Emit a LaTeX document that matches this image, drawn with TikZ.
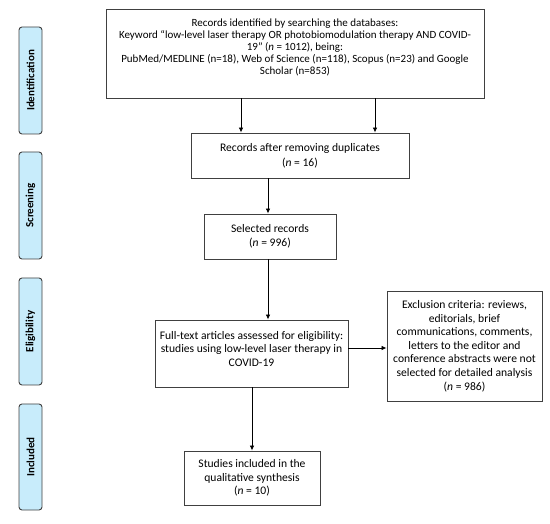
\documentclass[tikz,border=0pt]{standalone}
\usepackage{fontspec}
\setmainfont{Carlito}
\usetikzlibrary{arrows.meta}
\definecolor{stage}{HTML}{C8ECFB}
\definecolor{edge}{HTML}{404040}
\begin{document}
\begin{tikzpicture}[x=1pt,y=-1pt,
  box/.style={draw=edge,line width=0.9pt,rectangle,inner sep=0pt,font=\fontsize{11.6}{13.6}\selectfont,align=center},
  stagebox/.style={draw=edge,line width=0.9pt,fill=stage,rounded corners=3pt,minimum height=23pt,inner sep=0pt,font=\fontsize{11}{12}\selectfont\bfseries,rotate=90},
  txt/.style={inner sep=0pt,font=\fontsize{11}{12.1}\selectfont,align=center},
  arr/.style={draw=black,line width=0.8pt,-{Latex[length=5pt,width=4.5pt]}}]
\useasboundingbox (0,0) rectangle (550,524);
% stage labels
\node[stagebox,minimum width=107pt] (sid) at (30.5,80.5) {Identification};
\node[stagebox,minimum width=107pt] (ssc) at (30.5,205.5) {Screening};
\node[stagebox,minimum width=107pt] (sel) at (30.5,331.5) {Eligibility};
\node[stagebox,minimum width=106pt] (sin) at (30.5,457) {Included};
% boxes
\node[box,minimum width=378pt,minimum height=89pt] (id) at (295,53.5) {};
\node[txt,anchor=north] (idt) at (295,18.5) {Records identified by searching the databases:\\
Keyword “low-level laser therapy OR photobiomodulation therapy AND COVID-\\
19” (\textit{n} = 1012), being:\\
PubMed/MEDLINE (n=18), Web of Science (n=118), Scopus (n=23) and Google\\
Scholar (n=853)};
\node[box,minimum width=218pt,minimum height=45pt,font=\fontsize{11.6}{15}\selectfont] (dup) at (300,155.5) {Records after removing duplicates\\(\textit{n} = 16)};
\node[box,minimum width=132pt,minimum height=45pt] (sel3) at (270,236.5) {Selected records\\(\textit{n} = 996)};
\node[box,minimum width=193pt,minimum height=67pt] (full) at (251.5,353.5) {};
\node[txt,anchor=north,font=\fontsize{11.6}{13.6}\selectfont] (fullt) at (251.5,331) {Full-text articles assessed for eligibility:\\studies using low-level laser therapy in\\COVID-19};
\node[box,minimum width=155pt,minimum height=110pt] (exc) at (464.5,346) {Exclusion criteria: reviews,\\editorials, brief\\communications, comments,\\letters to the editor and\\conference abstracts were not\\selected for detailed analysis\\(\textit{n} = 986)};
\node[box,minimum width=136pt,minimum height=54pt] (inc) at (252,478) {Studies included in the\\qualitative synthesis\\(\textit{n} = 10)};
% arrows
\draw[arr] (id.south -| 241,0) -- (dup.north -| 241,0);
\draw[arr] (id.south -| 375,0) -- (dup.north -| 375,0);
\draw[arr] (dup.south -| 268,0) -- (sel3.north -| 268,0);
\draw[arr] (sel3.south -| 268,0) -- (full.north -| 268,0);
\draw[arr] (full.east |- 0,348) -- (exc.west |- 0,348);
\draw[arr] (full.south -| 252,0) -- (inc.north -| 252,0);
\end{tikzpicture}
\end{document}
